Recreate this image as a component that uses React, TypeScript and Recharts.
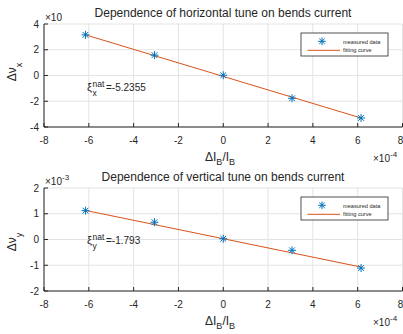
import React from 'react';
import { ComposedChart, Line, Scatter, XAxis, YAxis, CartesianGrid, Customized } from 'recharts';

// ΔI_B/I_B in units of 1e-4
const xPoints = [-6.15, -3.07, 0, 3.07, 6.15];
const nuXMeasured = [3.16, 1.58, 0.02, -1.77, -3.3];
const nuYMeasured = [1.12, 0.67, 0.03, -0.42, -1.11];
const fitXPoints = [-6.15, 6.15];
const nuXFit = [3.16, -3.3];
const nuYFit = [1.13, -1.07];
const xTicks = [-8, -6, -4, -2, 0, 2, 4, 6, 8];
const yTicksX = [-4, -2, 0, 2, 4];
const yTicksY = [-2, -1, 0, 1, 2];

const BLUE = '#0072BD';
const ORANGE = '#D95319';
const AXIS = '#262626';
const GRID = '#e3e3e3';
const FONT = '"Liberation Sans", Arial, Helvetica, sans-serif';

const W = 403;
const H = 167;

const Asterisk = ({ cx, cy, r = 4 }: { cx: number; cy: number; r?: number }) => {
  const d = r * 0.72;
  return (
    <g stroke={BLUE} strokeWidth={1}>
      <line x1={cx - r} y1={cy} x2={cx + r} y2={cy} />
      <line x1={cx} y1={cy - r} x2={cx} y2={cy + r} />
      <line x1={cx - d} y1={cy - d} x2={cx + d} y2={cy + d} />
      <line x1={cx - d} y1={cy + d} x2={cx + d} y2={cy - d} />
    </g>
  );
};

interface OverlayProps {
  title: string;
  sub: string;
  exp: string;
  xi: string;
  xiY: number;
  yLabelY: number;
}

const Overlay = ({ title, sub, exp, xi, xiY, yLabelY }: OverlayProps) => (
  <g fontFamily={FONT} fill={AXIS}>
    <text x={223} y={17} fontSize={12} textAnchor="middle">{title}</text>
    <text x={45} y={20.5} fontSize={10}>
      ×10{exp && <tspan dy={-5} fontSize={8}>{exp}</tspan>}
    </text>
    <text transform={`translate(16,${yLabelY}) rotate(-90)`} fontSize={12} textAnchor="middle">
      Δν<tspan dy={6} fontSize={9}>{sub}</tspan>
    </text>
    <text x={205} y={160.5} fontSize={12}>
      ΔI<tspan dy={4} fontSize={9}>B</tspan>
      <tspan dy={-4}>/I</tspan>
      <tspan dy={4} fontSize={9}>B</tspan>
    </text>
    <text x={373} y={161.5} fontSize={10}>
      ×10<tspan dy={-5} fontSize={8}>-4</tspan>
    </text>
    <text x={87} y={xiY} fontSize={11}>ξ</text>
    <text x={92.5} y={xiY - 4} fontSize={8.5}>nat</text>
    <text x={92.5} y={xiY + 4.5} fontSize={8.5}>{sub}</text>
    <text x={106} y={xiY} fontSize={10}>{xi}</text>
    <rect x={301} y={33} width={87} height={23} fill="#fff" stroke={AXIS} strokeWidth={0.8} />
    <Asterisk cx={322} cy={41.3} r={3.8} />
    <text x={343} y={43.5} fontSize={5.6}>measured data</text>
    <line x1={307.5} y1={50.3} x2={340} y2={50.3} stroke={ORANGE} strokeWidth={1} />
    <text x={343} y={52.3} fontSize={5.6}>fitting curve</text>
  </g>
);

interface PanelProps {
  measured: number[];
  fit: number[];
  yTicks: number[];
  title: string;
  sub: string;
  exp: string;
  xi: string;
  xiY: number;
  yLabelY: number;
}

const Panel = ({ measured, fit, yTicks, title, sub, exp, xi, xiY, yLabelY }: PanelProps) => {
  const pts = xPoints.map((x, i) => ({ x, y: measured[i] }));
  const line = fitXPoints.map((x, i) => ({ x, y: fit[i] }));
  const dom: [number, number] = [yTicks[0], yTicks[yTicks.length - 1]];
  const tickStyle = { fill: AXIS, fontSize: 10, fontFamily: FONT };
  return (
    <ComposedChart width={W} height={H} margin={{ top: 24, right: 0.5, left: 0, bottom: 0 }}>
      <CartesianGrid stroke={GRID} strokeWidth={1} />
      <XAxis
        xAxisId={0}
        dataKey="x"
        type="number"
        domain={[-8, 8]}
        ticks={xTicks}
        allowDataOverflow
        height={40}
        stroke={AXIS}
        tickSize={-4}
        tickMargin={13.5}
        tick={tickStyle}
      />
      <XAxis
        xAxisId="top"
        orientation="top"
        dataKey="x"
        type="number"
        domain={[-8, 8]}
        ticks={xTicks}
        height={0}
        stroke={AXIS}
        tickSize={-4}
        tick={<g />}
      />
      <YAxis
        yAxisId={0}
        type="number"
        domain={dom}
        ticks={yTicks}
        allowDataOverflow
        width={44}
        stroke={AXIS}
        tickSize={-4}
        tickMargin={9}
        tick={tickStyle}
      />
      <YAxis
        yAxisId="right"
        orientation="right"
        type="number"
        domain={dom}
        ticks={yTicks}
        width={0}
        stroke={AXIS}
        tickSize={-4}
        tick={<g />}
      />
      <Line
        data={line}
        dataKey="y"
        type="linear"
        stroke={ORANGE}
        strokeWidth={1}
        dot={false}
        activeDot={false}
        isAnimationActive={false}
      />
      <Scatter
        data={pts}
        dataKey="y"
        isAnimationActive={false}
        shape={(p: any) => <Asterisk cx={p.cx} cy={p.cy} />}
      />
      <Customized
        component={<Overlay title={title} sub={sub} exp={exp} xi={xi} xiY={xiY} yLabelY={yLabelY} />}
      />
    </ComposedChart>
  );
};

export default function App() {
  return (
    <div style={{ position: 'absolute', left: 0, top: 0, width: W, height: 334, background: '#fff' }}>
      <div style={{ position: 'absolute', left: 0, top: 0 }}>
        <Panel
          measured={nuXMeasured}
          fit={nuXFit}
          yTicks={yTicksX}
          title="Dependence of horizontal tune on bends current"
          sub="x"
          exp=""
          xi="=-5.2355"
          xiY={91}
          yLabelY={72}
        />
      </div>
      <div style={{ position: 'absolute', left: 0, top: 164 }}>
        <Panel
          measured={nuYMeasured}
          fit={nuYFit}
          yTicks={yTicksY}
          title="Dependence of vertical tune on bends current"
          sub="y"
          exp="-3"
          xi="=-1.793"
          xiY={80}
          yLabelY={78}
        />
      </div>
    </div>
  );
}
